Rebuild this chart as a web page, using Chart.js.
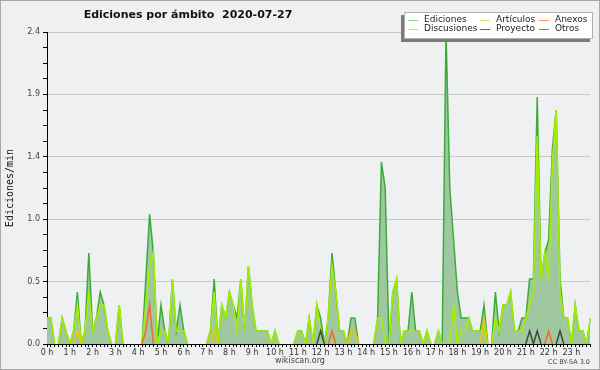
<!DOCTYPE html>
<html>
<head>
<meta charset="utf-8">
<script src="https://cdn.jsdelivr.net/npm/chart.js@4.4.1/dist/chart.umd.min.js"></script>
<style>
  html, body { margin: 0; padding: 0; background: #eff0f1; }
  canvas { display: block; }
</style>
</head>
<body>
<canvas id="chart" width="600" height="370"></canvas>
<script>
const title = 'Ediciones por ámbito  2020-07-27';
const yTitle = 'Ediciones/min';

// hour labels, one every 6 slots of 10 minutes
const hourTicks = ['0 h','1 h','2 h','3 h','4 h','5 h','6 h','7 h','8 h','9 h','10 h','11 h',
  '12 h','13 h','14 h','15 h','16 h','17 h','18 h','19 h','20 h','21 h','22 h','23 h'];
const yTickLabels = ['0.0', '0.5', '1.0', '1.4', '1.9', '2.4'];
const yMax = 2.4;

// edits per minute, 10-minute slots from 00:00 to 23:50
const ediciones = [
  0.2,0.2,0,0,0.2,0.1,0,0.1,0.4,0,
  0.1,0.7,0.1,0.2,0.4,0.3,0.1,0,0,0.3,
  0,0,0,0,0,0,0.5,1.0,0.7,0,
  0.3,0.1,0,0.5,0.1,0.3,0.1,0,0,0,
  0,0,0,0.1,0.5,0,0.3,0.2,0.4,0.3,
  0.2,0.5,0.1,0.6,0.3,0.1,0.1,0.1,0.1,0,
  0.1,0,0,0,0,0,0.1,0.1,0,0.2,
  0,0.3,0.2,0,0.2,0.7,0.4,0.1,0.1,0,
  0.2,0.2,0,0,0,0,0,0.2,1.4,1.2,
  0,0.4,0.5,0,0.1,0.1,0.4,0.1,0.1,0,
  0.1,0,0,0.1,0,2.4,1.2,0.8,0.4,0.2,
  0.2,0.2,0.1,0.1,0.1,0.3,0,0,0.4,0.1,
  0.3,0.3,0.4,0.1,0.1,0.2,0.2,0.5,0.5,1.9,
  0.5,0.7,0.8,1.5,1.8,0.5,0.2,0.2,0,0.3,
  0.1,0.1,0,0.2
];
const articulos = [
  0.2,0.2,0,0,0.2,0.1,0,0.1,0.3,0,
  0.1,0.4,0.1,0.2,0.3,0.3,0.1,0,0,0.3,
  0,0,0,0,0,0,0.3,0.6,0.7,0,
  0.1,0.1,0,0.5,0.1,0.1,0.1,0,0,0,
  0,0,0,0.1,0.4,0,0.3,0.2,0.4,0.3,
  0.1,0.5,0.1,0.6,0.3,0.1,0.1,0.1,0.1,0,
  0.1,0,0,0,0,0,0.1,0.1,0,0.2,
  0,0.3,0.1,0,0.2,0.6,0.4,0.1,0.1,0,
  0.1,0.1,0,0,0,0,0,0.2,0.2,0,
  0,0.4,0.5,0,0.1,0.1,0.1,0.1,0.1,0,
  0.1,0,0,0.1,0,0,0,0.3,0,0.1,
  0.1,0.2,0.1,0.1,0.1,0.1,0,0,0.2,0.1,
  0.3,0.3,0.4,0.1,0.1,0.1,0.2,0.3,0.4,1.6,
  0.5,0.7,0.5,1.4,1.8,0.4,0.2,0.2,0,0.3,
  0.1,0.1,0,0.2
];
const discusiones = [
  0,0,0,0,0,0,0,0,0.1,0,
  0,0,0,0,0,0,0,0,0,0,
  0,0,0,0,0,0,0,0,0,0,
  0,0,0,0,0,0,0,0,0,0,
  0,0,0,0,0.1,0,0,0,0,0,
  0,0,0,0,0,0,0,0,0,0,
  0,0,0,0,0,0,0,0,0,0,
  0,0,0,0,0,0,0,0,0,0,
  0.1,0.1,0,0,0,0,0,0,0,0,
  0,0,0,0,0,0,0,0,0,0,
  0,0,0,0,0,0,0,0,0,0,
  0,0,0,0,0,0.2,0,0,0,0,
  0,0,0,0,0,0,0,0,0,0,
  0,0,0,0,0,0,0,0,0,0,
  0,0,0,0
];
const anexos = [
  0,0,0,0,0,0,0,0,0,0,
  0,0,0,0,0,0,0,0,0,0,
  0,0,0,0,0,0,0.1,0.3,0,0,
  0,0,0,0,0,0,0,0,0,0,
  0,0,0,0,0,0,0,0,0,0,
  0,0,0,0,0,0,0,0,0,0,
  0,0,0,0,0,0,0,0,0,0,
  0,0,0,0,0,0.1,0,0,0,0,
  0,0,0,0,0,0,0,0,0,0,
  0,0,0,0,0,0,0,0,0,0,
  0,0,0,0,0,0,0,0,0,0,
  0,0,0,0,0,0,0,0,0,0,
  0,0,0,0,0,0,0,0,0,0,
  0,0,0.1,0,0,0,0,0,0,0,
  0,0,0,0
];
const proyecto = [
  0,0,0,0,0,0,0,0,0,0,
  0,0,0,0,0,0,0,0,0,0,
  0,0,0,0,0,0,0,0,0,0,
  0,0,0,0,0,0,0,0,0,0,
  0,0,0,0,0,0,0,0,0,0,
  0,0,0,0,0,0,0,0,0,0,
  0,0,0,0,0,0,0,0,0,0,
  0,0,0.1,0,0,0,0,0,0,0,
  0,0,0,0,0,0,0,0,0,0,
  0,0,0,0,0,0,0,0,0,0,
  0,0,0,0,0,0,0,0,0,0,
  0,0,0,0,0,0,0,0,0,0,
  0,0,0,0,0,0,0,0.1,0,0.1,
  0,0,0,0,0,0.1,0,0,0,0,
  0,0,0,0
];
const otros = [
  0,0,0,0,0,0,0,0,0,0,
  0,0,0,0,0,0,0,0,0,0,
  0,0,0,0,0,0,0,0,0,0,
  0,0,0,0,0,0,0,0,0,0,
  0,0,0,0,0,0,0,0,0,0,
  0,0,0,0,0,0,0,0,0,0,
  0,0,0,0,0,0,0,0,0,0,
  0,0,0,0,0,0,0,0,0,0,
  0,0,0,0,0,0,0,0,0,0,
  0,0,0,0,0,0,0,0,0,0,
  0,0,0,0,0,0,0,0,0,0,
  0,0,0,0,0,0,0,0,0,0,
  0,0,0,0,0,0,0,0,0,0,
  0,0,0,0,0,0,0,0,0,0,
  0,0,0,0
];

const colors = {
  ediciones: '#3aac3a',
  articulos: '#a6ee00',
  discusiones: '#f4c400',
  anexos: '#f26a2a',
  proyecto: '#444444',
  otros: '#9a48e8'
};

// legend is laid out column by column, like the original
const legendItems = [
  { label: 'Ediciones', color: '#8ed68e' },
  { label: 'Discusiones', color: '#ffd24a' },
  { label: 'Artículos', color: '#c9f25a' },
  { label: 'Proyecto', color: '#666666' },
  { label: 'Anexos', color: '#ff8a5a' },
  { label: 'Otros', color: '#a860f0' }
];

const toPoints = arr => arr.map((v, i) => ({ x: i, y: v }));

// hide the flat stretches lying on the axis
const hideZero = {
  borderColor: ctx => (ctx.p0.parsed.y === 0 && ctx.p1.parsed.y === 0) ? 'rgba(0,0,0,0)' : undefined
};

function series(label, arr, color, extra) {
  return Object.assign({
    label: label,
    data: toPoints(arr),
    borderColor: color,
    borderWidth: 1.5,
    fill: false,
    pointRadius: 0,
    tension: 0,
    segment: hideZero
  }, extra || {});
}

const decor = {
  id: 'decor',
  beforeDraw(chart) {
    const c = chart.ctx;
    c.save();
    c.fillStyle = '#eff0f1';
    c.fillRect(0, 0, chart.width, chart.height);
    c.restore();
  },
  afterDraw(chart) {
    const c = chart.ctx;
    c.save();
    // outer frame
    c.strokeStyle = '#a8a8a8';
    c.lineWidth = 1;
    c.strokeRect(0.5, 0.5, 599, 369);

    // title
    c.fillStyle = '#111';
    c.font = 'bold 11px "DejaVu Sans"';
    c.textAlign = 'center';
    c.textBaseline = 'middle';
    c.fillText(title, 188, 15);

    // legend box with shadow
    c.fillStyle = '#7a7a7a';
    c.fillRect(401, 15, 189, 27);
    c.fillStyle = '#ffffff';
    c.fillRect(404, 12, 189, 27);
    c.strokeStyle = '#b0b0b0';
    c.strokeRect(404.5, 12.5, 188, 26);
    c.font = '9px "DejaVu Sans"';
    c.textAlign = 'left';
    const colX = [408, 480, 539];
    legendItems.forEach((it, k) => {
      const x = colX[Math.floor(k / 2)];
      const y = 19.5 + (k % 2) * 9.5;
      c.strokeStyle = it.color;
      c.lineWidth = 1;
      c.beginPath();
      c.moveTo(x, Math.round(y) + 0.5);
      c.lineTo(x + 10, Math.round(y) + 0.5);
      c.stroke();
      c.fillStyle = '#222';
      c.fillText(it.label, x + 16, y);
    });

    // footer
    c.fillStyle = '#444';
    c.font = '8px "DejaVu Sans"';
    c.textAlign = 'center';
    c.fillText('wikiscan.org', 300, 361);
    c.font = '6.5px "DejaVu Sans"';
    c.textAlign = 'right';
    c.fillText('CC BY-SA 3.0', 590, 362);
    c.restore();
  }
};

new Chart(document.getElementById('chart'), {
  type: 'line',
  data: {
    // first dataset is painted on top
    datasets: [
      series('Proyecto', proyecto, colors.proyecto),
      series('Anexos', anexos, colors.anexos),
      series('Discusiones', discusiones, colors.discusiones),
      series('Otros', otros, colors.otros),
      series('Artículos', articulos, colors.articulos, { borderWidth: 1.6 }),
      series('Ediciones', ediciones, colors.ediciones, { fill: 'origin', backgroundColor: '#a0c8a0' })
    ]
  },
  options: {
    responsive: false,
    animation: false,
    devicePixelRatio: 1,
    layout: { padding: { left: 0, right: 9.6, top: 32, bottom: 0 } },
    plugins: {
      legend: { display: false },
      tooltip: { enabled: false }
    },
    scales: {
      x: {
        type: 'linear',
        min: 0,
        max: ediciones.length - 1,
        z: 1,
        afterFit: s => { s.height = 26; },
        afterBuildTicks: s => { s.ticks = ediciones.map((v, i) => ({ value: i })); },
        grid: { drawOnChartArea: false, drawTicks: true, tickLength: 3, tickColor: '#000' },
        border: { color: '#000', width: 1 },
        ticks: {
          autoSkip: false,
          maxRotation: 0,
          padding: 1,
          color: '#333',
          font: { family: 'DejaVu Sans', size: 8 },
          callback: v => (v % 6 === 0 ? hourTicks[v / 6] : '')
        }
      },
      y: {
        min: 0,
        max: yMax,
        afterFit: s => { s.width = 47; },
        // major ticks every yMax/5, minor ticks in between
        afterBuildTicks: s => {
          const t = [];
          for (let k = 0; k <= 20; k++) t.push({ value: yMax * k / 20 });
          s.ticks = t;
        },
        grid: {
          color: ctx => (ctx.index % 4 === 0 ? '#c9c9c9' : 'rgba(0,0,0,0)'),
          tickColor: '#000',
          tickLength: 4
        },
        border: { color: '#000', width: 1 },
        ticks: {
          padding: 3,
          color: '#444',
          font: { family: 'DejaVu Sans', size: 8 },
          callback: (v, i) => (i % 4 === 0 ? yTickLabels[i / 4] : '')
        },
        title: {
          display: true,
          text: yTitle,
          color: '#111',
          font: { family: 'DejaVu Sans Mono', size: 10 },
          padding: { top: 4, bottom: 0 }
        }
      }
    }
  },
  plugins: [decor]
});
</script>
</body>
</html>
